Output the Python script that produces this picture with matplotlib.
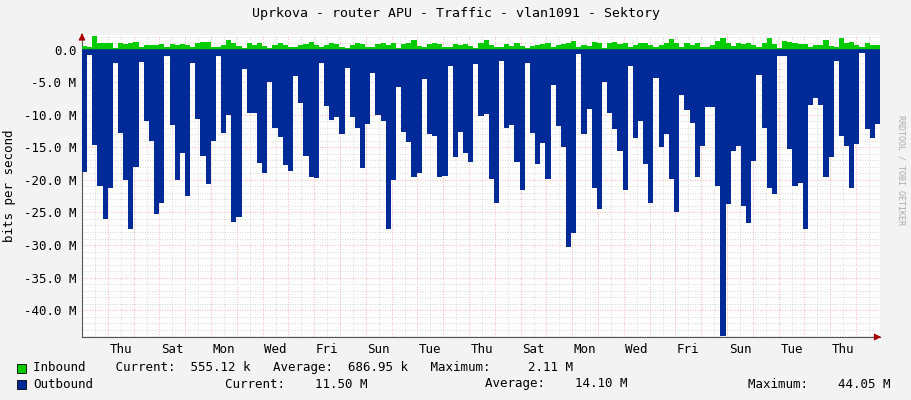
import numpy as np
import matplotlib.pyplot as plt
from matplotlib.patches import Rectangle

# outbound traffic, Mbit/s (plotted negative), roughly 5h steps
outbound = [18.7, 0.8, 14.6, 21.0, 26.0, 21.2, 2.0, 12.8, 20.0, 27.5, 18.0, 1.8, 11.0, 14.0, 25.3, 23.6,
            1.0, 11.5, 20.0, 15.8, 22.5, 2.0, 10.6, 16.3, 20.6, 14.0, 1.0, 12.8, 10.0, 26.5, 25.7,
            3.0, 9.7, 9.7, 17.4, 19.0, 5.0, 12.0, 13.4, 17.7, 18.6, 4.0, 8.2, 16.3, 19.5, 19.7,
            2.0, 8.6, 10.8, 10.3, 13.0, 2.8, 10.3, 12.0, 18.2, 11.4, 3.5, 10.0, 11.0, 27.6, 20.0,
            5.7, 12.6, 14.2, 19.5, 19.0, 4.5, 13.0, 13.2, 19.5, 19.4, 2.5, 16.4, 12.6, 15.8, 17.2,
            2.2, 10.2, 9.8, 19.8, 23.5, 1.7, 12.0, 11.5, 17.2, 21.5, 2.0, 12.8, 17.5, 14.3, 19.8,
            5.4, 11.7, 15.0, 30.3, 28.2, 0.6, 13.0, 9.1, 21.2, 24.5, 4.9, 9.7, 12.2, 15.5, 21.5,
            2.5, 13.5, 11.0, 17.5, 23.5, 4.3, 15.0, 12.9, 19.8, 25.0, 7.0, 9.3, 11.2, 19.6, 14.8,
            8.8, 8.8, 21.0, 44.05, 23.7, 15.5, 14.8, 24.0, 26.6, 17.1, 3.8, 12.0, 21.2, 22.2,
            1.0, 1.0, 15.3, 21.0, 20.5, 27.5, 8.5, 7.4, 8.5, 19.5, 16.4, 1.7, 13.3, 14.8, 21.3, 14.4,
            0.5, 12.2, 13.5, 11.4]
# inbound traffic, Mbit/s
inbound = [0.6, 0.4, 2.1, 1.1, 1.1, 1.0, 0.3, 1.1, 0.9, 1.0, 1.2, 0.4, 0.7, 0.8, 0.8, 0.9,
           0.4, 0.9, 0.8, 0.9, 0.7, 0.4, 1.0, 1.3, 1.2, 0.5, 0.4, 0.8, 1.6, 1.0, 0.6,
           0.3, 1.1, 0.7, 1.0, 0.6, 0.3, 0.8, 1.0, 0.7, 0.4, 0.5, 0.7, 0.9, 1.3, 0.7,
           0.4, 0.8, 1.0, 0.9, 0.5, 0.3, 0.8, 1.1, 0.9, 0.5, 0.4, 0.9, 1.0, 0.8, 1.0,
           0.3, 0.9, 1.0, 1.5, 0.6, 0.4, 0.9, 1.1, 0.9, 0.5, 0.4, 0.9, 0.7, 0.9, 0.6,
           0.3, 1.0, 1.6, 0.8, 0.5, 0.4, 0.9, 0.6, 1.0, 0.6, 0.3, 0.6, 0.8, 0.9, 1.1,
           0.4, 0.7, 0.9, 1.0, 1.4, 0.4, 0.8, 0.6, 1.2, 1.0, 0.3, 1.0, 1.3, 0.9, 1.0,
           0.4, 0.8, 1.0, 1.0, 0.8, 0.4, 0.8, 1.0, 1.7, 1.1, 0.4, 1.0, 0.7, 1.0, 0.5,
           0.4, 0.8, 1.4, 1.8, 1.0, 0.6, 1.0, 0.9, 1.0, 0.8, 0.4, 1.0, 1.9, 0.9,
           0.3, 1.4, 1.2, 1.0, 0.9, 0.9, 0.4, 0.7, 0.8, 1.5, 0.6, 0.4, 1.9, 1.1, 1.3, 0.8,
           0.4, 1.0, 0.8, 0.7]
days = ['Wed', 'Thu', 'Fri', 'Sat', 'Sun', 'Mon', 'Tue']
total_days = 30.93
ytick_vals = [0, -5, -10, -15, -20, -25, -30, -35, -40]

plt.rcParams['font.family'] = 'DejaVu Sans Mono'
bg = '#f3f3f3'
fig = plt.figure(figsize=(9.11, 4.0), dpi=100, facecolor=bg)
ax = fig.add_axes([82/911, 63/400, 798/911, 302/400])
ax.set_facecolor('white')

n = len(outbound)
step = total_days / n
x = np.arange(n + 1) * step
out = -np.array(outbound)
inn = np.array(inbound)
ax.stairs(out, x, fill=True, color='#002a97', lw=0, zorder=3)
ax.stairs(inn, x, fill=True, color='#00cc00', lw=0, zorder=3)
ax.axhline(0, color='#002a97', lw=1.2, zorder=4)

ax.set_xlim(0, total_days)
ax.set_ylim(-44.15, 2.3)

# grid
for d in np.arange(0, total_days, 0.5):
    is_day = abs(d - round(d)) < 1e-6
    ax.axvline(d, color='#ff9999' if is_day else '#cccccc', lw=0.6, ls=(0, (1, 2)), zorder=1)
for v in np.arange(-44, 3, 1):
    major = v % 5 == 0
    ax.axhline(v, color='#ff9999' if major else '#cccccc', lw=0.6, ls=(0, (1, 2)), zorder=1)

ax.set_yticks(ytick_vals)
ax.set_yticklabels(['0.0'] + ['%.1f M' % v for v in ytick_vals[1:]])
lab_pos = [k + 0.5 for k in range(1, 31, 2)]
ax.set_xticks(lab_pos)
ax.set_xticklabels([days[k % 7] for k in range(1, 31, 2)])
ax.tick_params(length=0, labelsize=9, colors='black', pad=4)
for s in ['top', 'right']:
    ax.spines[s].set_visible(False)
for s in ['left', 'bottom']:
    ax.spines[s].set_color('#555555')
ax.annotate('', xy=(1.005, 0), xytext=(0.99, 0), xycoords='axes fraction',
            arrowprops=dict(arrowstyle='-|>', color='#aa0000', lw=0.8))
ax.annotate('', xy=(0, 1.015), xytext=(0, 0.99), xycoords='axes fraction',
            arrowprops=dict(arrowstyle='-|>', color='#aa0000', lw=0.8))
ax.set_ylabel('bits per second', fontsize=9, labelpad=6)

fig.text(0.5, 1 - 14/400, 'Uprkova - router APU - Traffic - vlan1091 - Sektory',
         ha='center', va='center', fontsize=9.5)
fig.text(901/911, 0.5 + 30/400, 'RRDTOOL / TOBI OETIKER', rotation=270,
         ha='center', va='center', fontsize=6, color='#aaaaaa')

fig.patches.append(Rectangle((17/911, 1 - 373/400), 9/911, 9/400, transform=fig.transFigure,
                             facecolor='#00cc00', edgecolor='black', lw=0.6))
fig.patches.append(Rectangle((17/911, 1 - 389/400), 9/911, 9/400, transform=fig.transFigure,
                             facecolor='#002a97', edgecolor='black', lw=0.6))
fs = 9
fig.text(33/911, 1 - 368/400, 'Inbound    Current:  555.12 k   Average:  686.95 k   Maximum:     2.11 M',
         va='center', fontsize=fs)
fig.text(33/911, 1 - 384/400, 'Outbound', va='center', fontsize=fs)
fig.text(225/911, 1 - 384/400, 'Current:    11.50 M', va='center', fontsize=fs)
fig.text(485/911, 1 - 384/400, 'Average:    14.10 M', va='center', fontsize=fs)
fig.text(748/911, 1 - 384/400, 'Maximum:    44.05 M', va='center', fontsize=fs)

fig.savefig('out.png', dpi=100, facecolor=bg)
